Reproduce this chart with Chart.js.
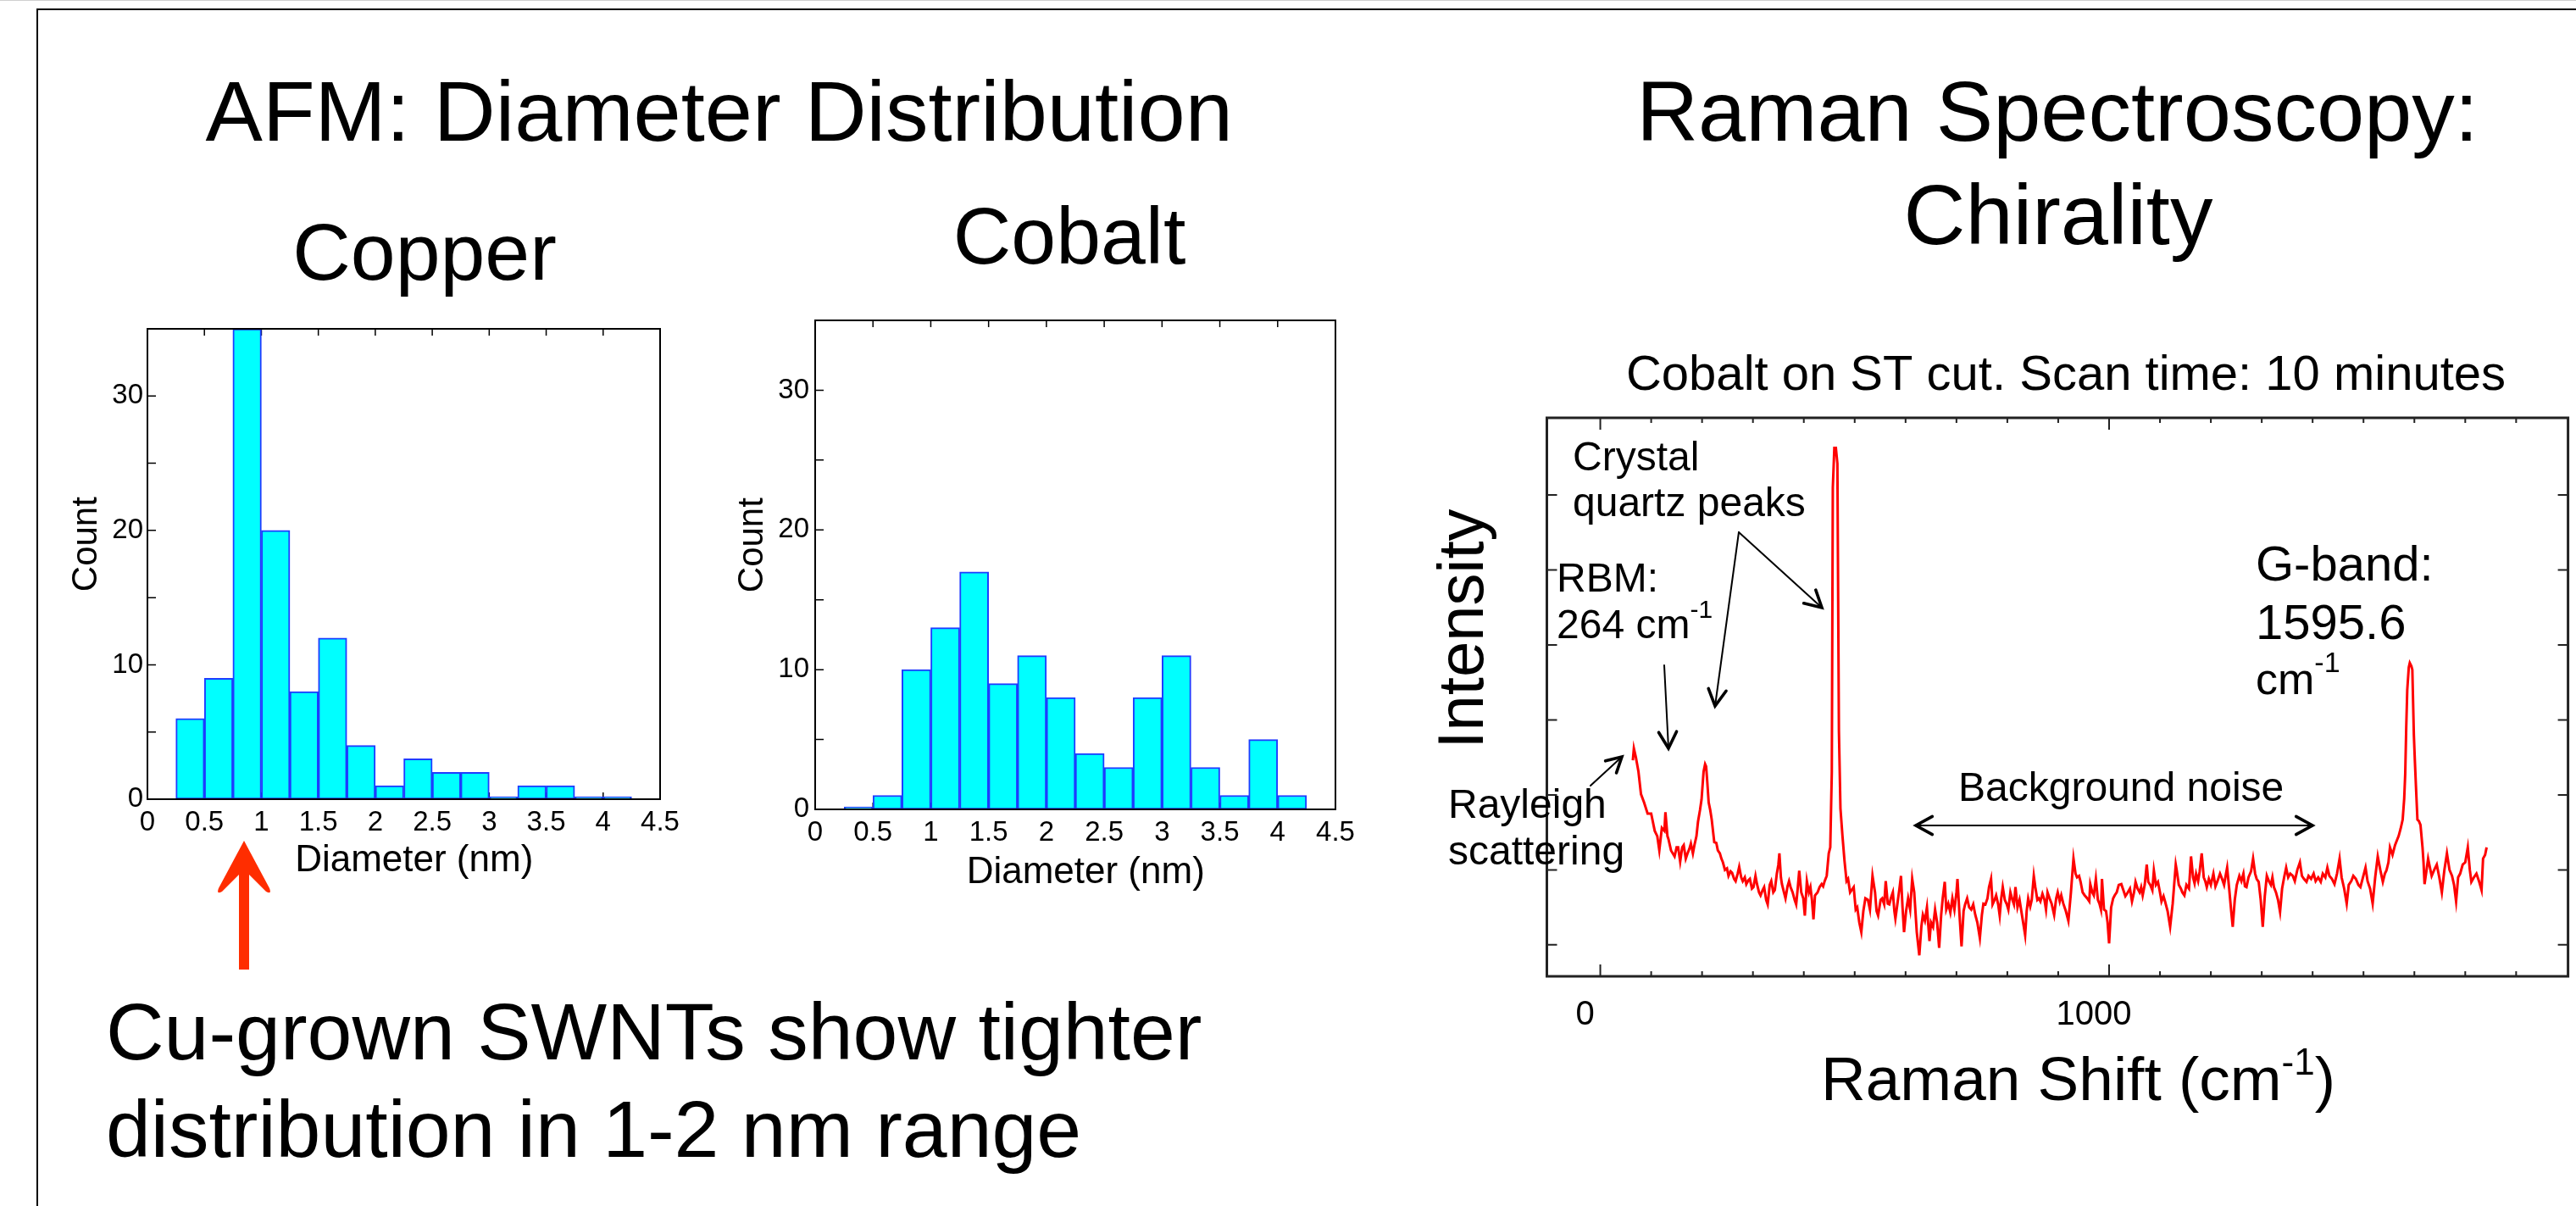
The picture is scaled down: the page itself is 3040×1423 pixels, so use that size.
<!DOCTYPE html>
<html>
<head>
<meta charset="utf-8">
<script src="https://cdn.jsdelivr.net/npm/chart.js@4.4.1/dist/chart.umd.min.js"></script>
<style>
html,body{margin:0;padding:0;background:#fff;}
body{width:3040px;height:1423px;position:relative;overflow:hidden;font-family:"Liberation Sans",Arial,Helvetica,sans-serif;}
.t{position:absolute;white-space:nowrap;line-height:1;color:#000;}
.c{text-align:center;}
canvas{position:absolute;}
.ln{position:absolute;background:#000;}
</style>
</head>
<body>
<div class="ln" style="left:0;top:0;width:3040px;height:1px;background:#cfcfcf"></div>
<div class="ln" style="left:43px;top:9.5px;width:2997px;height:2px"></div>
<div class="ln" style="left:43px;top:10px;width:2px;height:1413px"></div>

<div class="t c" style="left:148.7px;width:1400px;top:81px;font-size:101px">AFM: Diameter Distribution</div>
<div class="t c" style="left:201px;width:600px;top:249.6px;font-size:95px">Copper</div>
<div class="t c" style="left:962px;width:600px;top:231.3px;font-size:95px">Cobalt</div>
<div class="t c" style="left:1828px;width:1200px;top:81px;font-size:101px">Raman Spectroscopy:</div>
<div class="t c" style="left:1829px;width:1200px;top:202.5px;font-size:101px">Chirality</div>
<div class="t" style="left:125px;top:1169.6px;font-size:95px">Cu-grown SWNTs show tighter</div>
<div class="t" style="left:125px;top:1284.6px;font-size:95px">distribution in 1-2 nm range</div>

<svg style="position:absolute;left:250px;top:985px" width="80" height="170" viewBox="0 0 80 170">
<path d="M38 7 L68 63 Q71 71 64 67 L44 47 L44 159 L32 159 L32 47 L12 67 Q5 71 8 63 Z" fill="#ff2d00"/>
</svg>

<canvas id="cu" width="800" height="720" style="left:60px;top:360px"></canvas>
<canvas id="co" width="780" height="720" style="left:860px;top:350px"></canvas>
<canvas id="raman" width="1380" height="1000" style="left:1660px;top:400px"></canvas>

<script>
// ---------------- DATA ----------------
const BIN_CENTERS   = [0.375,0.625,0.875,1.125,1.375,1.625,1.875,2.125,2.375,2.625,2.875,3.125,3.375,3.625,3.875,4.125];
const COPPER_COUNTS = [6,9,35,20,8,12,4,1,3,2,2,0,1,1,0,0];
const COBALT_COUNTS = [0,1,10,13,17,9,11,8,4,3,8,11,3,1,5,1];
const HIST_X_TICK_VALUES = [0,0.5,1,1.5,2,2.5,3,3.5,4,4.5];
const HIST_X_TICKS  = ['0','0.5','1','1.5','2','2.5','3','3.5','4','4.5'];
const HIST_Y_TICK_VALUES = [0,10,20,30];
const HIST_Y_TICKS  = ['0','10','20','30'];
const RAMAN_X_TICK_VALUES = [0,1000];
const RAMAN_X_TICKS = ['0','1000'];
// Raman shift (cm-1), intensity (arb. units)
const RAMAN_SPECTRUM = [
[64,2.46],[66,2.62],[70,2.50],[75,2.31],[80,2.01],[86,1.90],[93,1.75],[100,1.75],[107,1.52],[112,1.45],
[116,1.26],[121,1.56],[126,1.52],[128,1.77],[132,1.45],[134,1.41],[139,1.26],[146,1.18],[150,1.30],[153,1.30],
[157,1.11],[161,1.30],[164,1.33],[168,1.15],[171,1.21],[175,1.28],[178,1.35],[182,1.22],[185,1.33],[189,1.45],
[192,1.64],[196,1.80],[199,1.94],[203,2.31],[206,2.41],[208,2.38],[210,2.20],[213,1.90],[216,1.80],[219,1.67],
[224,1.37],[228,1.36],[231,1.26],[235,1.22],[238,1.15],[241,1.10],[245,1.00],[249,1.02],[252,0.92],[256,0.98],
[259,0.96],[263,0.88],[266,0.85],[270,0.95],[273,1.04],[277,0.90],[280,0.85],[284,0.90],[287,0.81],[291,0.86],
[294,0.88],[298,0.75],[301,0.77],[305,0.92],[308,0.81],[312,0.70],[315,0.66],[319,0.73],[322,0.77],[326,0.60],
[329,0.54],[333,0.80],[336,0.85],[340,0.70],[343,0.73],[347,0.95],[350,1.07],[352,1.22],[355,0.90],[357,0.81],
[361,0.70],[364,0.62],[368,0.78],[371,0.85],[374,0.77],[378,0.70],[382,0.60],[385,0.54],[388,0.75],[391,0.99],
[395,0.70],[399,0.62],[402,0.39],[406,0.85],[410,0.70],[413,0.77],[416,0.60],[419,0.34],[422,0.66],[427,0.70],
[431,0.77],[435,0.81],[438,0.78],[441,0.85],[445,0.92],[449,1.22],[452,1.30],[455,2.30],[457,6.10],[460,6.63],
[463,6.63],[466,6.42],[469,2.85],[472,1.82],[476,1.45],[480,1.12],[484,0.85],[487,0.88],[491,0.70],[494,0.73],
[498,0.77],[502,0.47],[505,0.50],[509,0.30],[513,0.17],[517,0.45],[521,0.62],[526,0.60],[530,0.47],[535,0.92],
[540,0.70],[543,0.45],[546,0.39],[551,0.60],[554,0.62],[558,0.54],[561,0.85],[565,0.55],[568,0.54],[571,0.62],
[575,0.70],[578,0.45],[580,0.35],[584,0.55],[588,0.75],[591,0.92],[594,0.50],[597,0.17],[601,0.45],[605,0.62],
[609,0.47],[613,0.88],[617,0.70],[622,0.17],[627,-0.14],[631,0.24],[634,0.40],[638,0.32],[642,0.50],[647,0.05],
[650,0.30],[654,0.24],[658,0.47],[662,0.30],[666,-0.04],[670,0.40],[673,0.62],[677,0.84],[680,0.47],[684,0.55],
[688,0.43],[692,0.62],[696,0.47],[700,0.70],[702,0.88],[706,0.40],[710,-0.02],[714,0.45],[717,0.54],[721,0.62],
[725,0.50],[729,0.47],[733,0.54],[737,0.40],[741,0.30],[746,0.09],[750,0.40],[753,0.55],[757,0.54],[761,0.62],
[764,0.77],[768,0.88],[771,0.54],[775,0.60],[778,0.66],[782,0.54],[785,0.39],[788,0.62],[791,0.77],[795,0.60],
[799,0.54],[802,0.47],[806,0.70],[810,0.60],[813,0.54],[816,0.77],[820,0.50],[824,0.60],[827,0.47],[831,0.30],
[835,0.13],[838,0.45],[841,0.62],[845,0.51],[848,0.60],[852,0.92],[855,0.77],[859,0.60],[862,0.62],[865,0.58],
[869,0.68],[873,0.60],[876,0.47],[879,0.70],[883,0.62],[887,0.55],[892,0.40],[896,0.62],[899,0.70],[903,0.58],
[906,0.66],[910,0.55],[915,0.45],[920,0.32],[925,0.70],[930,1.15],[934,0.95],[937,0.90],[941,0.92],[944,0.84],
[948,0.70],[952,0.66],[957,0.62],[961,0.58],[963,0.81],[967,0.70],[970,0.66],[974,0.88],[978,0.60],[981,0.55],
[984,0.47],[986,0.88],[990,0.47],[994,0.45],[997,0.30],[1000,0.02],[1004,0.50],[1008,0.62],[1011,0.66],[1015,0.70],
[1019,0.80],[1024,0.81],[1028,0.73],[1032,0.65],[1036,0.69],[1041,0.75],[1045,0.58],[1049,0.70],[1052,0.84],[1056,0.75],
[1060,0.70],[1063,0.77],[1066,0.66],[1070,0.80],[1074,1.07],[1077,0.84],[1081,0.80],[1085,0.73],[1088,0.99],[1092,0.80],
[1096,0.84],[1100,0.70],[1103,0.58],[1107,0.65],[1110,0.58],[1115,0.45],[1120,0.24],[1125,0.55],[1131,1.07],[1133,0.99],
[1137,0.80],[1141,0.75],[1144,0.70],[1148,0.66],[1152,0.80],[1157,0.75],[1161,1.18],[1165,0.90],[1168,0.82],[1171,0.95],
[1175,0.85],[1178,0.98],[1182,1.22],[1186,0.90],[1189,0.85],[1192,0.77],[1196,0.88],[1200,0.80],[1205,0.95],[1209,0.78],
[1213,0.85],[1218,0.95],[1222,0.88],[1226,0.80],[1229,0.92],[1232,1.03],[1236,0.75],[1240,0.45],[1243,0.24],[1247,0.60],
[1251,0.80],[1256,0.92],[1260,0.85],[1264,0.95],[1267,0.78],[1270,0.77],[1274,0.90],[1279,0.98],[1283,1.15],[1287,0.95],
[1290,0.88],[1294,0.84],[1298,0.60],[1302,0.24],[1306,0.65],[1310,0.92],[1314,0.85],[1318,0.80],[1321,0.90],[1324,0.77],
[1328,0.70],[1332,0.60],[1336,0.44],[1340,0.75],[1344,0.90],[1348,1.03],[1352,0.90],[1356,0.95],[1361,0.92],[1365,0.85],
[1370,1.00],[1375,1.10],[1379,0.92],[1383,0.88],[1388,0.84],[1392,0.92],[1397,0.88],[1402,0.95],[1406,0.85],[1411,0.90],
[1416,0.84],[1420,0.95],[1425,0.90],[1429,1.03],[1433,0.92],[1438,0.88],[1443,0.81],[1448,0.95],[1453,1.15],[1457,0.90],
[1462,0.75],[1467,0.55],[1471,0.80],[1476,0.85],[1480,0.92],[1485,0.88],[1490,0.80],[1494,0.77],[1499,0.90],[1504,1.03],
[1508,0.85],[1513,0.75],[1518,0.55],[1523,0.90],[1528,1.18],[1533,1.00],[1538,0.84],[1542,0.95],[1545,0.99],[1549,1.10],
[1552,1.30],[1557,1.20],[1562,1.33],[1566,1.40],[1569,1.45],[1573,1.55],[1577,1.67],[1580,1.95],[1582,2.28],[1584,2.90],
[1586,3.40],[1589,3.70],[1591,3.76],[1594,3.72],[1596,3.67],[1599,2.80],[1601,2.45],[1603,2.13],[1606,1.67],[1609,1.65],
[1612,1.60],[1616,1.30],[1618,1.10],[1620,0.81],[1624,1.00],[1627,1.15],[1630,1.05],[1634,0.92],[1639,1.00],[1644,1.07],
[1649,0.90],[1654,0.70],[1659,1.00],[1664,1.22],[1669,1.00],[1674,0.92],[1678,0.80],[1682,0.58],[1686,0.90],[1690,0.95],
[1695,1.07],[1700,1.10],[1705,1.30],[1709,1.00],[1712,0.84],[1717,0.90],[1722,0.95],[1727,0.85],[1732,0.73],[1735,1.15],
[1739,1.20],[1742,1.30]
];

// ---------------- RENDER ----------------
const FONT = '"Liberation Sans", Arial, Helvetica, sans-serif';
Chart.defaults.font.family = FONT;
Chart.defaults.color = '#000';

const histFrame = {
  id: 'histFrame',
  beforeDatasetsDraw(chart) {
    const {ctx, chartArea: a, scales: {x, y}} = chart;
    ctx.save();
    ctx.strokeStyle = '#000';
    ctx.lineWidth = 1.5;
    ctx.beginPath();
    for (let i = 0; i <= 9; i++) {
      const px = x.getPixelForValue(i * 0.5);
      ctx.moveTo(px, a.top); ctx.lineTo(px, a.top + 8);
      ctx.moveTo(px, a.bottom); ctx.lineTo(px, a.bottom - 8);
    }
    for (let i = 0; i <= 7; i++) {
      const py = y.getPixelForValue(i * 5);
      ctx.moveTo(a.left, py); ctx.lineTo(a.left + 10, py);
    }
    ctx.stroke();
    ctx.restore();
  },
  afterDatasetsDraw(chart) {
    const {ctx, chartArea: a} = chart;
    ctx.save();
    ctx.strokeStyle = '#000';
    ctx.lineWidth = 2;
    ctx.strokeRect(a.left, a.top, a.right - a.left, a.bottom - a.top);
    ctx.restore();
  }
};

function histChart(id, counts, L) {
  return new Chart(document.getElementById(id), {
    type: 'bar',
    data: {
      datasets: [{
        data: BIN_CENTERS.map((c, i) => ({x: c, y: counts[i]})),
        backgroundColor: '#00FFFF',
        borderColor: '#1E3CFF',
        borderWidth: 2,
        borderSkipped: false,
        minBarLength: 3,
        barPercentage: 1,
        categoryPercentage: 1
      }]
    },
    options: {
      responsive: false, animation: false, devicePixelRatio: 1,
      layout: {padding: L.pad},
      plugins: {legend: {display: false}, tooltip: {enabled: false}},
      scales: {
        x: {
          type: 'linear', min: 0, max: 4.5, offset: false,
          grid: {display: false, drawTicks: false, tickLength: 0, offset: false},
          border: {display: false},
          afterBuildTicks: s => { s.ticks = HIST_X_TICK_VALUES.map(v => ({value: v})); },
          ticks: {autoSkip: false, maxRotation: 0, padding: L.xtp,
                  font: {size: 33}, color: '#000', callback: (v, i) => HIST_X_TICKS[i]},
          title: {display: true, text: '\u00A0\u00A0Diameter (nm)', font: {size: 44}, color: '#000',
                  padding: {top: 0, bottom: L.xtb}},
          afterFit: s => { s.height = L.xh; }
        },
        y: {
          min: 0, max: 35,
          grid: {display: false, drawTicks: false, tickLength: 0},
          border: {display: false},
          afterBuildTicks: s => { s.ticks = HIST_Y_TICK_VALUES.map(v => ({value: v})); },
          ticks: {padding: L.ytp, font: {size: 33}, color: '#000', callback: (v, i) => HIST_Y_TICKS[i]},
          title: {display: true, text: '\u00A0\u00A0\u00A0\u00A0Count', font: {size: 42}, color: '#000',
                  padding: {top: L.ytt, bottom: 0}},
          afterFit: s => { s.width = L.yw; }
        }
      }
    },
    plugins: [histFrame]
  });
}

histChart('cu', COPPER_COUNTS, {pad: {left: 0, right: 81, top: 28, bottom: 0}, yw: 114, xh: 137, xtp: 8, xtb: 38, ytp: 5, ytt: 17});
histChart('co', COBALT_COUNTS, {pad: {left: 0, right: 64, top: 28, bottom: 0}, yw: 102, xh: 115, xtp: 8, xtb: 14, ytp: 7, ytt: 3});

// Raman annotations (page coordinates, converted to canvas)
const OFF = {x: 1660, y: 400};
const P = (x, y) => [x - OFF.x, y - OFF.y];

function arrow(ctx, x1, y1, x2, y2, head, lw) {
  const [ax, ay] = P(x1, y1), [bx, by] = P(x2, y2);
  ctx.lineWidth = lw;
  ctx.beginPath(); ctx.moveTo(ax, ay); ctx.lineTo(bx, by); ctx.stroke();
  const ang = Math.atan2(by - ay, bx - ax);
  ctx.lineWidth = lw + 1.6;
  ctx.beginPath();
  ctx.moveTo(bx - head * Math.cos(ang - 0.5), by - head * Math.sin(ang - 0.5));
  ctx.lineTo(bx, by);
  ctx.lineTo(bx - head * Math.cos(ang + 0.5), by - head * Math.sin(ang + 0.5));
  ctx.stroke();
}
function txt(ctx, s, x, y, size, align) {
  ctx.font = size + 'px ' + FONT;
  ctx.textAlign = align || 'left';
  ctx.textBaseline = 'alphabetic';
  const [px, py] = P(x, y);
  ctx.fillText(s, px, py);
}
function txtSup(ctx, s, sup, tail, x, y, size, supSize, raise) {
  ctx.textAlign = 'left'; ctx.textBaseline = 'alphabetic';
  const [px, py] = P(x, y);
  ctx.font = size + 'px ' + FONT;
  ctx.fillText(s, px, py);
  let cx = px + ctx.measureText(s).width;
  ctx.font = supSize + 'px ' + FONT;
  ctx.fillText(sup, cx, py - raise);
  cx += ctx.measureText(sup).width;
  if (tail) { ctx.font = size + 'px ' + FONT; ctx.fillText(tail, cx, py); }
}

const ramanPlugin = {
  id: 'ramanDeco',
  afterDatasetsDraw(chart) {
    const {ctx, chartArea: a, scales: {x, y}} = chart;
    ctx.save();
    ctx.strokeStyle = '#222';
    ctx.lineWidth = 2;
    ctx.beginPath();
    for (let i = 0; i <= 18; i++) {
      const px = x.getPixelForValue(i * 100);
      const len = (i % 10 === 0) ? 14 : 6;
      ctx.moveTo(px, a.top); ctx.lineTo(px, a.top + len);
      ctx.moveTo(px, a.bottom); ctx.lineTo(px, a.bottom - len);
    }
    for (let i = 0; i <= 6; i++) {
      const py = y.getPixelForValue(i);
      ctx.moveTo(a.left, py); ctx.lineTo(a.left + 12, py);
      ctx.moveTo(a.right, py); ctx.lineTo(a.right - 12, py);
    }
    ctx.stroke();
    ctx.lineWidth = 3;
    ctx.strokeRect(a.left, a.top, a.right - a.left, a.bottom - a.top);
    ctx.restore();
  },
  afterDraw(chart) {
    const ctx = chart.ctx;
    ctx.save();
    ctx.fillStyle = '#000';
    ctx.strokeStyle = '#000';
    ctx.lineCap = 'round';
    ctx.lineJoin = 'miter';

    txt(ctx, 'Cobalt on ST cut. Scan time: 10 minutes', 2438, 460, 58, 'center');
    txt(ctx, 'Crystal', 1856, 555, 48);
    txt(ctx, 'quartz peaks', 1856, 609, 48);
    txt(ctx, 'RBM:', 1837, 698, 48);
    txtSup(ctx, '264 cm', '-1', '', 1837, 753, 48, 30, 24);
    txt(ctx, 'G-band:', 2662, 685, 58);
    txt(ctx, '1595.6', 2662, 754, 58);
    txtSup(ctx, 'cm', '-1', '', 2662, 819, 52, 34, 26);
    txt(ctx, 'Background noise', 2311, 945, 48);
    txt(ctx, 'Rayleigh', 1709, 965, 48);
    txt(ctx, 'scattering', 1709, 1020, 48);
    txtSup(ctx, 'Raman Shift (cm', '-1', ')', 2149, 1298, 73, 44, 30);

    ctx.save();
    const [ix, iy] = P(1750, 742);
    ctx.translate(ix, iy);
    ctx.rotate(-Math.PI / 2);
    ctx.font = '76px ' + FONT;
    ctx.textAlign = 'center';
    ctx.textBaseline = 'alphabetic';
    ctx.fillText('Intensity', 0, 0);
    ctx.restore();

    arrow(ctx, 1877, 927, 1914, 893, 20, 2);
    arrow(ctx, 1964, 785, 1969, 883, 22, 2);
    arrow(ctx, 2052, 628, 2024, 833, 22, 2);
    arrow(ctx, 2052, 628, 2150, 717, 22, 2);
    arrow(ctx, 2495, 974, 2261, 974, 22, 2);
    arrow(ctx, 2495, 974, 2729, 974, 22, 2);
    ctx.restore();
  }
};

new Chart(document.getElementById('raman'), {
  type: 'line',
  data: {
    datasets: [{
      data: RAMAN_SPECTRUM.map(([sx, sy]) => ({x: sx, y: sy})),
      borderColor: '#FF0000',
      borderWidth: 3,
      pointRadius: 0,
      tension: 0,
      fill: false
    }]
  },
  options: {
    responsive: false, animation: false, devicePixelRatio: 1,
    layout: {padding: {left: 165.5, right: 9.4, top: 93, bottom: 0}},
    plugins: {legend: {display: false}, tooltip: {enabled: false}},
    scales: {
      x: {
        type: 'linear', min: -105, max: 1902,
        grid: {display: false, drawTicks: false, tickLength: 0},
        border: {display: false},
        afterBuildTicks: s => { s.ticks = RAMAN_X_TICK_VALUES.map(v => ({value: v})); },
        ticks: {padding: 22, labelOffset: -18, maxRotation: 0, autoSkip: false,
                font: {size: 40}, color: '#000', callback: (v, i) => RAMAN_X_TICKS[i]},
        afterFit: s => { s.height = 248; }
      },
      y: {display: false, min: -0.42, max: 7.03}
    }
  },
  plugins: [ramanPlugin]
});
</script>
</body>
</html>
